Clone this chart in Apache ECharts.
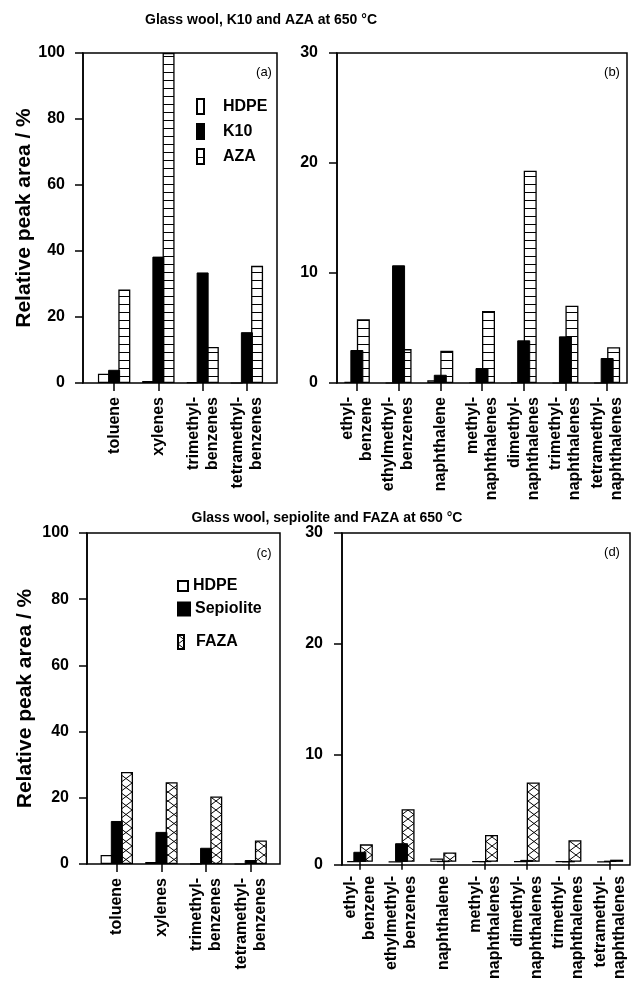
<!DOCTYPE html>
<html>
<head>
<meta charset="utf-8">
<script src="https://cdn.jsdelivr.net/npm/echarts@6/dist/echarts.min.js"></script>
<style>
html,body{margin:0;padding:0;background:#fff;}
#chart{width:631px;height:982px;}
</style>
</head>
<body>
<div id="chart"></div>
<script>
// ---------- DATA ----------
const catsBenz = ['toluene', 'xylenes', 'trimethyl-\nbenzenes', 'tetramethyl-\nbenzenes'];
const catsNaph = ['ethyl-\nbenzene', 'ethylmethyl-\nbenzenes', 'naphthalene', 'methyl-\nnaphthalenes',
                  'dimethyl-\nnaphthalenes', 'trimethyl-\nnaphthalenes', 'tetramethyl-\nnaphthalenes'];

// panel (a)
const hdpeA = [2.8, 0.6, 0.2, 0];
const k10A  = [4.0, 38.3, 33.5, 15.4];
const azaA  = [28.3, 100, 10.9, 35.5];
// panel (b)
const hdpeB = [0.1, 0, 0.25, 0.05, 0.05, 0, 0];
const k10B  = [3.0, 10.7, 0.75, 1.36, 3.88, 4.24, 2.27];
const azaB  = [5.8, 3.08, 2.94, 6.55, 19.3, 7.03, 3.25];
// panel (c)
const hdpeC = [2.7, 0.6, 0.1, 0];
const sepC  = [13.0, 9.7, 4.9, 1.2];
const fazaC = [27.8, 24.7, 20.4, 7.1];
// panel (d)
const hdpeD = [0.05, 0, 0.3, 0.03, 0.05, 0.03, 0];
const sepD  = [0.92, 1.7, 0.05, 0.05, 0.18, 0.03, 0.1];
const fazaD = [1.6, 4.8, 0.85, 2.45, 7.25, 1.97, 0.2];

const yTicksLeft = {min: 0, max: 100, interval: 20};
const yTicksRight = {min: 0, max: 30, interval: 10};

// ---------- STYLE ----------
const FONT = '"Liberation Sans", Arial, Helvetica, sans-serif';

function stripePattern() {
  const c = document.createElement('canvas');
  c.width = 8; c.height = 8;
  const g = c.getContext('2d');
  g.fillStyle = '#fff'; g.fillRect(0, 0, 8, 8);
  g.fillStyle = '#000'; g.fillRect(0, 0, 8, 1);
  return c;
}
function crossPattern() {
  const w = 12, h = 9;
  const c = document.createElement('canvas');
  c.width = w; c.height = h;
  const g = c.getContext('2d');
  g.fillStyle = '#fff'; g.fillRect(0, 0, w, h);
  g.strokeStyle = '#000'; g.lineWidth = 1;
  g.beginPath();
  g.moveTo(0, 0); g.lineTo(w, h);
  g.moveTo(w, 0); g.lineTo(0, h);
  g.stroke();
  return c;
}
const stripeFill = {image: stripePattern(), repeat: 'repeat'};
const crossFill = {image: crossPattern(), repeat: 'repeat'};

const styles = {
  HDPE: {color: '#fff', borderColor: '#000', borderWidth: 1.2},
  K10: {color: '#000', borderColor: '#000', borderWidth: 1},
  Sepiolite: {color: '#000', borderColor: '#000', borderWidth: 1},
  AZA: {color: stripeFill, borderColor: '#000', borderWidth: 1.3},
  FAZA: {color: crossFill, borderColor: '#000', borderWidth: 1.3}
};

// frame grids (even index) and data grids (odd index)
const grids = [
  {left: 83, top: 53, width: 194, height: 330},
  {left: 92, top: 53, width: 177, height: 330},
  {left: 337, top: 53, width: 290, height: 330},
  {left: 336, top: 53, width: 292, height: 330},
  {left: 87, top: 533, width: 193, height: 331},
  {left: 94.5, top: 533, width: 178.5, height: 331},
  {left: 342, top: 533, width: 288, height: 332},
  {left: 339, top: 533, width: 294, height: 332}
];
const gridOpts = grids.map((g, i) => Object.assign({}, g, i % 2 === 0
  ? {show: true, borderColor: '#000', borderWidth: 1.5, backgroundColor: 'transparent'}
  : {show: false}));

const xAxes = [], yAxes = [];
const panelCats = [catsBenz, catsNaph, catsBenz, catsNaph];
const panelY = [yTicksLeft, yTicksRight, yTicksLeft, yTicksRight];
const nameGaps = [47, 0, 51, 0];
for (let p = 0; p < 4; p++) {
  const fi = p * 2, di = p * 2 + 1;
  const yr = panelY[p];
  const left = (p % 2 === 0);
  xAxes.push({gridIndex: fi, type: 'value', show: false, min: 0, max: 1});
  yAxes.push({
    gridIndex: fi, type: 'value', min: yr.min, max: yr.max, interval: yr.interval,
    axisLine: {show: true, lineStyle: {color: '#000', width: 1.5}},
    axisTick: {show: true, length: 8, lineStyle: {color: '#000', width: 1.5}},
    axisLabel: {color: '#000', fontSize: 16, fontWeight: 'bold', fontFamily: FONT, margin: left ? 18 : 19},
    splitLine: {show: false},
    name: left ? 'Relative peak area / %' : '',
    nameLocation: 'middle', nameGap: nameGaps[p], nameRotate: 90,
    nameTextStyle: {fontSize: 21, fontWeight: 'bold', color: '#000', fontFamily: FONT}
  });
  xAxes.push({
    gridIndex: di, type: 'category', data: panelCats[p],
    axisLine: {show: false},
    axisTick: {show: true, alignWithLabel: true, length: 8, lineStyle: {color: '#000', width: 1.5}},
    axisLabel: {interval: 0, rotate: 90, color: '#000', fontSize: 16, fontWeight: 'bold',
                fontFamily: FONT, lineHeight: 19, margin: 14}
  });
  yAxes.push({gridIndex: di, type: 'value', min: yr.min, max: yr.max, show: false});
}

function bars(name, data, axisIdx, wide) {
  return {
    type: 'bar', name: name, data: data,
    xAxisIndex: axisIdx, yAxisIndex: axisIdx,
    barWidth: wide ? 13 : 12,
    barGap: wide ? '-50%' : '-15%',
    itemStyle: styles[name],
    z: (name === 'K10' || name === 'Sepiolite') ? 4 : 3,
    silent: true
  };
}

const series = [
  bars('HDPE', hdpeA, 1, false), bars('K10', k10A, 1, false), bars('AZA', azaA, 1, false),
  bars('HDPE', hdpeB, 3, true), bars('K10', k10B, 3, true), bars('AZA', azaB, 3, true),
  bars('HDPE', hdpeC, 5, false), bars('Sepiolite', sepC, 5, false), bars('FAZA', fazaC, 5, false),
  bars('HDPE', hdpeD, 7, true), bars('Sepiolite', sepD, 7, true), bars('FAZA', fazaD, 7, true)
];

const legendText = {fontSize: 16, fontWeight: 'bold', color: '#000', fontFamily: FONT};
const legends = [
  {data: ['HDPE', 'K10', 'AZA'], left: 191, top: 93, orient: 'vertical', icon: 'rect',
   itemWidth: 7, itemHeight: 15, itemGap: 8, selectedMode: false,
   formatter: '{t|{name}}',
   textStyle: Object.assign({rich: {t: Object.assign({padding: [0, 0, 0, 14]}, legendText)}}, legendText)},
  {data: ['HDPE'], left: 172, top: 573, icon: 'rect', itemWidth: 10, itemHeight: 10, selectedMode: false,
   itemGap: 0, textStyle: legendText},
  {data: ['Sepiolite'], left: 172, top: 596, icon: 'rect', itemWidth: 12, itemHeight: 13, selectedMode: false,
   textStyle: legendText},
  {data: ['FAZA'], left: 172, top: 629, icon: 'rect', itemWidth: 6, itemHeight: 14, selectedMode: false,
   formatter: '{t|{name}}',
   textStyle: Object.assign({rich: {t: Object.assign({padding: [0, 0, 0, 7]}, legendText)}}, legendText)}
];

function label(txt, x, y, font) {
  return {type: 'text', x: x, y: y, silent: true,
    style: {text: txt, font: font, fill: '#000', textAlign: 'center', textVerticalAlign: 'middle'}};
}
const graphics = [
  label('Glass wool, K10 and AZA at 650 °C', 261, 20, 'bold 14px ' + FONT),
  label('Glass wool, sepiolite and FAZA at 650 °C', 327, 518, 'bold 14px ' + FONT),
  label('(a)', 264, 72, '13px ' + FONT),
  label('(b)', 612, 72, '13px ' + FONT),
  label('(c)', 264, 553, '13px ' + FONT),
  label('(d)', 612, 552, '13px ' + FONT)
];

const chart = echarts.init(document.getElementById('chart'), null, {renderer: 'canvas'});
chart.setOption({
  backgroundColor: '#fff',
  animation: false,
  textStyle: {fontFamily: FONT},
  grid: gridOpts,
  xAxis: xAxes,
  yAxis: yAxes,
  legend: legends,
  series: series,
  graphic: graphics
});
</script>
</body>
</html>
